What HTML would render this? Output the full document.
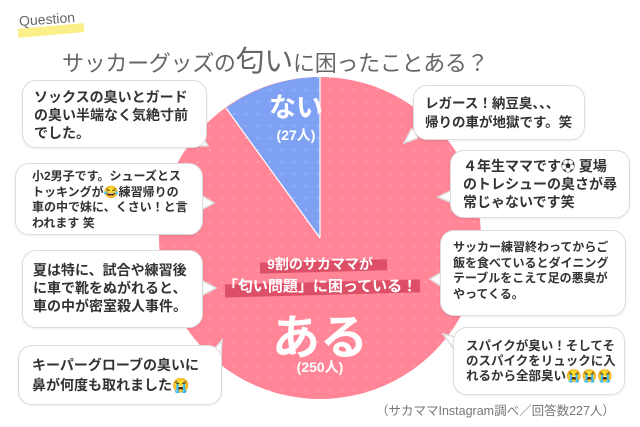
<!DOCTYPE html>
<html><head><meta charset="utf-8"><style>
*{margin:0;padding:0;box-sizing:border-box}
body{width:640px;height:427px;background:#fff;position:relative;overflow:hidden;font-family:"Liberation Sans","Noto Sans CJK JP",sans-serif}
.t{position:absolute;white-space:nowrap}
.b{position:absolute;background:#fff;border:1.5px solid #ddd;border-radius:14px;color:#333;font-weight:bold;box-shadow:0 1px 2px rgba(0,0,0,.08)}
.b div{position:absolute;white-space:nowrap}
</style></head><body>
<div class="t" style="left:18px;top:26px;width:66px;height:9px;background:#fbef8a;transform:rotate(-5deg)"></div>
<div class="t" style="left:19px;top:11px;font-size:14px;color:#666;transform:rotate(-4deg)">Question</div>
<div class="t" style="left:62px;top:38px;font-size:22px;color:#666;letter-spacing:-0.3px">サッカーグッズの<span style="font-size:29px">匂い</span>に困ったことある？</div>

<svg width="640" height="427" style="position:absolute;left:0;top:0">
<defs>
<pattern id="d" width="12" height="12" patternUnits="userSpaceOnUse"><circle cx="6" cy="6" r="1.1" fill="#fff" opacity=".22"/></pattern>
</defs>
<circle cx="320" cy="238" r="161" fill="#ff8597"/>
<path d="M320 238 L320 77 A161 161 0 0 0 226 108 Z" fill="#7fa1f3"/>
<circle cx="320" cy="238" r="161" fill="url(#d)"/>
<line x1="320" y1="238" x2="320" y2="77" stroke="#fff" stroke-width="1.2"/>
<line x1="320" y1="238" x2="226" y2="108" stroke="#fff" stroke-width="1.2"/>
<rect x="260" y="261" width="127" height="11" fill="#dd4f67" transform="rotate(-1.5 320 266)"/>
<rect x="225" y="282" width="195" height="13" fill="#dd4f67" transform="rotate(-1.5 320 288)"/>
<g fill="#fff" stroke="#ddd" stroke-width="1.5">
<path d="M190 146 L208 146 L202 135"/>
<path d="M201 195 L214 203 L201 210"/>
<path d="M201 280 L216 288 L201 296"/>
<path d="M212 352 L222 340 L221 356"/>
<path d="M418 138 L404 143 L412 128"/>
<path d="M452 190 L438 197 L452 203"/>
<path d="M442 272 L430 279 L442 287"/>
<path d="M460 338 L443 334 L456 352"/>
</g>
</svg>

<div class="t" style="left:0;width:640px;text-align:center;top:86px;font-size:27px;color:#fff;font-weight:bold;padding-right:48px">ない</div>
<div class="t" style="left:0;width:640px;text-align:center;top:125px;font-size:14px;color:#fff;font-weight:bold;padding-right:48px">(27人)</div>

<div class="t" style="left:0;width:640px;text-align:center;top:254px;font-size:14px;color:#fff;font-weight:bold">9割のサカママが</div>
<div class="t" style="left:0;width:640px;text-align:center;top:275px;font-size:15px;color:#fff;font-weight:bold">「匂い問題」に困っている！</div>
<div class="t" style="left:0;width:640px;text-align:center;top:298px;font-size:48px;color:#fff;font-weight:bold">ある</div>
<div class="t" style="left:0;width:640px;text-align:center;top:357px;font-size:14px;color:#fff;font-weight:bold">(250人)</div>

<div class="b" style="left:22px;top:80px;width:185px;height:68px;font-size:14px;line-height:18px"><div style="left:11px;top:7px">ソックスの臭いとガード<br>の臭い半端なく気絶寸前<br>でした。</div></div>
<div class="b" style="left:15px;top:163px;width:188px;height:72px;font-size:12px;line-height:15.5px"><div style="left:16px;top:5px">小2男子です。シューズとス<br>トッキングが😂練習帰りの<br>車の中で妹に、くさい！と言<br>われます 笑</div></div>
<div class="b" style="left:22px;top:250px;width:181px;height:78px;font-size:14px;line-height:18px"><div style="left:10px;top:10px">夏は特に、試合や練習後<br>に車で靴をぬがれると、<br>車の中が密室殺人事件。</div></div>
<div class="b" style="left:18px;top:345px;width:204px;height:60px;font-size:14px;line-height:20px"><div style="left:13px;top:9px">キーパーグローブの臭いに<br>鼻が何度も取れました😭</div></div>

<div class="b" style="left:413px;top:85px;width:172px;height:55px;font-size:13.5px;line-height:19px"><div style="left:11px;top:8px">レガース！納豆臭、、、<br>帰りの車が地獄です。笑</div></div>
<div class="b" style="left:450px;top:150px;width:180px;height:68px;font-size:14px;line-height:18px"><div style="left:12px;top:6px">４年生ママです⚽ 夏場<br>のトレシューの臭さが尋<br>常じゃないです笑</div></div>
<div class="b" style="left:440px;top:230px;width:186px;height:86px;font-size:12px;line-height:15.5px"><div style="left:12px;top:9px">サッカー練習終わってからご<br>飯を食べているとダイニング<br>テーブルをこえて足の悪臭が<br>やってくる。</div></div>
<div class="b" style="left:453px;top:327px;width:172px;height:68px;font-size:12.5px;line-height:15px"><div style="left:12px;top:11px">スパイクが臭い！そしてそ<br>のスパイクをリュックに入<br>れるから全部臭い😭😭😭</div></div>

<div class="t" style="left:376px;top:400px;font-size:12.5px;color:#777">（サカママInstagram調べ／回答数227人）</div>
</body></html>
